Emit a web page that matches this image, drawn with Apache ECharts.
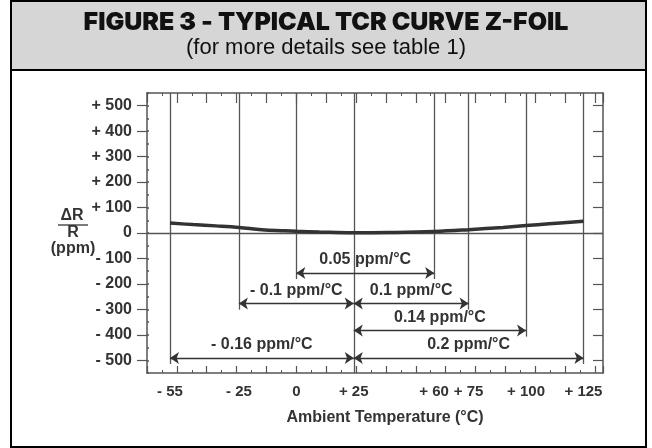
<!DOCTYPE html>
<html><head><meta charset="utf-8">
<script src="https://cdn.jsdelivr.net/npm/echarts@6/dist/echarts.min.js"></script>
<style>html,body{margin:0;padding:0;background:#fff}#c{width:652px;height:448px}</style>
</head><body><div id="c"></div>
<script>
const titleText = 'FIGURE 3 - TYPICAL TCR CURVE Z-FOIL';
const subtitleText = '(for more details see table 1)';
const xAxisName = 'Ambient Temperature (°C)';
const xTickTemps = [-55, -25, 0, 25, 60, 75, 100, 125];
const yTickValues = [-500, -400, -300, -200, -100, 0, 100, 200, 300, 400, 500];
const curveTemps  = [-55, -45, -35, -25, -15, -5, 0, 10, 25, 40, 60, 75, 90, 100, 110, 125];
const curveValues = [ 39,  33,  28,  22,  13,  9, 7,  4,  1,  2,  6, 13, 22,  29,  36,  46];
const referenceTemp = 25;
const spanLabels = ['0.05 ppm/°C', '- 0.1 ppm/°C', '0.1 ppm/°C', '0.14 ppm/°C', '- 0.16 ppm/°C', '0.2 ppm/°C'];
const spanStart  = [0, -25, 25, 25, -55, 25];
const spanEnd    = [60, 25, 75, 100, 25, 125];
const spanLevel  = [-157, -277, -277, -383, -491, -491];

const X_MIN = -65, X_MAX = 133.5, Y_MIN = -550, Y_MAX = 550;
const ink = '#333', gridInk = '#555';
const fam = '"Liberation Sans", Arial, sans-serif';

function signed(v) { return v > 0 ? '+ ' + v : (v < 0 ? '- ' + Math.abs(v) : '0'); }

const verticalLines = xTickTemps.map(t => {
  if (t === referenceTemp) return [{ coord: [t, Y_MAX] }, { coord: [t, Y_MIN] }];
  let lo = Infinity;
  spanStart.forEach((s, i) => { if (s === t || spanEnd[i] === t) lo = Math.min(lo, spanLevel[i]); });
  return [{ coord: [t, Y_MAX] }, { coord: [t, lo - 24] }];
});
const spanLines = spanLabels.map((name, i) => [
  { coord: [spanStart[i], spanLevel[i]], name: name },
  { coord: [spanEnd[i], spanLevel[i]] }
]);

const frameLine = { show: true, onZero: false, lineStyle: { color: gridInk, width: 1.5 } };

const chart = echarts.init(document.getElementById('c'), null, { renderer: 'canvas' });
chart.setOption({
  animation: false,
  backgroundColor: '#fff',
  graphic: [
    { type: 'rect', z: -10, shape: { x: 11, y: 1, width: 635, height: 446 }, style: { fill: '#fff', stroke: '#000', lineWidth: 2 } },
    { type: 'rect', z: -9, shape: { x: 11, y: 1, width: 635, height: 69 }, style: { fill: '#d6d6d6', stroke: '#000', lineWidth: 2 } },
    { type: 'text', left: 'center', top: 10, style: { text: titleText, font: '900 25px Inter, "Liberation Sans", sans-serif', fill: '#111' } },
    { type: 'text', left: 'center', top: 37, style: { text: subtitleText, font: '22px "Liberation Sans", Arial, sans-serif', fill: '#111' } },
    { type: 'text', x: 72, y: 216, style: { text: 'ΔR', font: 'bold 16px ' + fam, fill: ink, align: 'center', verticalAlign: 'middle' } },
    { type: 'line', shape: { x1: 58, y1: 225, x2: 88, y2: 225 }, style: { stroke: ink, lineWidth: 1.3 } },
    { type: 'text', x: 73, y: 233, style: { text: 'R', font: 'bold 16px ' + fam, fill: ink, align: 'center', verticalAlign: 'middle' } },
    { type: 'text', x: 73, y: 249, style: { text: '(ppm)', font: 'bold 16px ' + fam, fill: ink, align: 'center', verticalAlign: 'middle' } }
  ],
  grid: { left: 147, right: 49, top: 93, bottom: 75, containLabel: false },
  xAxis: [
    {
      type: 'value', position: 'bottom', min: X_MIN, max: X_MAX, interval: 13,
      axisLine: frameLine,
      axisTick: { show: true, inside: true, length: 7, lineStyle: { color: gridInk, width: 1.2 } },
      minorTick: { show: true, splitNumber: 2, length: 3, lineStyle: { color: gridInk } },
      axisLabel: { customValues: xTickTemps, formatter: signed, margin: 11, fontFamily: fam, fontWeight: 'bold', fontSize: 15, color: ink },
      splitLine: { show: false },
      name: xAxisName, nameLocation: 'middle', nameGap: 37,
      nameTextStyle: { fontFamily: fam, fontWeight: 'bold', fontSize: 16, color: ink, padding: [0, 0, 0, 20] }
    },
    {
      type: 'value', position: 'top', min: X_MIN, max: X_MAX, interval: 13,
      axisLine: frameLine,
      axisTick: { show: true, inside: true, length: 10, lineStyle: { color: gridInk, width: 1.2 } },
      minorTick: { show: true, splitNumber: 2, length: 3, lineStyle: { color: gridInk } },
      axisLabel: { show: false }, splitLine: { show: false }
    }
  ],
  yAxis: [
    {
      type: 'value', position: 'left', min: Y_MIN, max: Y_MAX,
      axisLine: frameLine,
      axisTick: { show: true, customValues: yTickValues, length: 10, lineStyle: { color: gridInk, width: 1.2 } },
      axisLabel: { customValues: yTickValues, formatter: signed, margin: 15, fontFamily: fam, fontWeight: 'bold', fontSize: 16, color: ink },
      splitLine: { show: false }
    },
    {
      type: 'value', position: 'right', min: Y_MIN, max: Y_MAX,
      axisLine: frameLine,
      axisTick: { show: true, inside: true, customValues: yTickValues, length: 10, lineStyle: { color: gridInk, width: 1.2 } },
      axisLabel: { show: false }, splitLine: { show: false }
    },
    {
      type: 'value', position: 'left', min: Y_MIN, max: Y_MAX, interval: 50,
      axisLine: { show: false, onZero: false },
      axisTick: { show: true, inside: true, length: 2, lineStyle: { color: gridInk, width: 1.5 } },
      axisLabel: { show: false }, splitLine: { show: false }
    }
  ],
  series: [
    {
      type: 'line', xAxisIndex: 0, yAxisIndex: 0, data: [], silent: true,
      markLine: {
        silent: true, symbol: 'none', animation: false,
        label: { show: false },
        lineStyle: { color: gridInk, width: 1.3, type: 'solid' },
        emphasis: { disabled: true },
        data: verticalLines.concat([[{ coord: [X_MIN, 0] }, { coord: [X_MAX, 0] }]])
      }
    },
    {
      type: 'line', xAxisIndex: 0, yAxisIndex: 0,
      data: curveTemps.map((t, i) => [t, curveValues[i]]),
      smooth: 0.4, showSymbol: false, symbol: 'none', z: 5,
      lineStyle: { color: ink, width: 3.5 }
    },
    {
      type: 'line', xAxisIndex: 0, yAxisIndex: 0, data: [], silent: true,
      markLine: {
        silent: true, symbol: ['arrow', 'arrow'], symbolSize: 9, animation: false,
        lineStyle: { color: ink, width: 1.3, type: 'solid' },
        emphasis: { disabled: true },
        label: {
          show: true, position: 'insideMiddleTop', distance: 5, formatter: p => p.name,
          fontFamily: fam, fontWeight: 'bold', fontSize: 16, color: ink
        },
        data: spanLines
      }
    }
  ]
});
</script></body></html>
